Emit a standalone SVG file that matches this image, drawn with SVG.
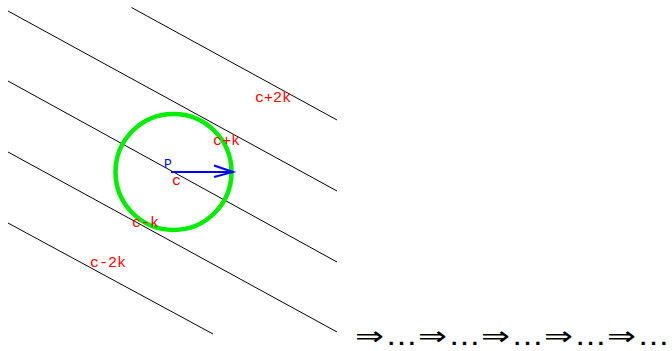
<svg xmlns="http://www.w3.org/2000/svg" width="672" height="351" viewBox="0 0 672 351">
<style>
.ln{stroke:#000;stroke-width:1;fill:none}
.lbl{font-family:"Liberation Mono","DejaVu Sans Mono",monospace;font-size:15px;fill:#ff0000}
.imp{font-family:"DejaVu Sans",sans-serif;font-size:26px;fill:#000}
</style>
<rect width="672" height="351" fill="#fff"/>
<g id="lines">
<line class="ln" x1="131.5" y1="7.5" x2="337" y2="120"/>
<line class="ln" x1="8" y1="11" x2="337" y2="191"/>
<line class="ln" x1="8" y1="81" x2="337" y2="262"/>
<line class="ln" x1="8" y1="152" x2="337" y2="332"/>
<line class="ln" x1="8" y1="223" x2="213" y2="334"/>
</g>
<g id="circle">
<circle cx="173.5" cy="172" r="58" fill="none" stroke="#00ee00" stroke-width="4.5"/>
</g>
<g id="arrow">
<line x1="171" y1="172" x2="232" y2="172" stroke="#0000ff" stroke-width="2"/>
<path d="M214,165.5 L233,172 L214,177" fill="none" stroke="#0000ff" stroke-width="2"/>
</g>
<g id="labels">
<text x="164" y="168" style="font-family:'Liberation Mono',monospace;font-size:13px;fill:#0000ff">P</text>
<text x="172" y="185" class="lbl">c</text>
<text x="213" y="145" class="lbl">c+k</text>
<text x="255" y="102" class="lbl">c+2k</text>
<text x="132" y="227" class="lbl">c-k</text>
<text x="90" y="267" class="lbl">c-2k</text>
</g>
<g id="implies">
<text x="355" y="345" class="imp" textLength="29" lengthAdjust="spacingAndGlyphs">⇒</text>
<text x="386" y="345" class="imp" textLength="31" lengthAdjust="spacingAndGlyphs">…</text>
<text x="418" y="345" class="imp" textLength="29" lengthAdjust="spacingAndGlyphs">⇒</text>
<text x="449" y="345" class="imp" textLength="31" lengthAdjust="spacingAndGlyphs">…</text>
<text x="481" y="345" class="imp" textLength="29" lengthAdjust="spacingAndGlyphs">⇒</text>
<text x="512" y="345" class="imp" textLength="31" lengthAdjust="spacingAndGlyphs">…</text>
<text x="544" y="345" class="imp" textLength="29" lengthAdjust="spacingAndGlyphs">⇒</text>
<text x="575" y="345" class="imp" textLength="31" lengthAdjust="spacingAndGlyphs">…</text>
<text x="607" y="345" class="imp" textLength="29" lengthAdjust="spacingAndGlyphs">⇒</text>
<text x="638" y="345" class="imp" textLength="31" lengthAdjust="spacingAndGlyphs">…</text>
</g>
</svg>
